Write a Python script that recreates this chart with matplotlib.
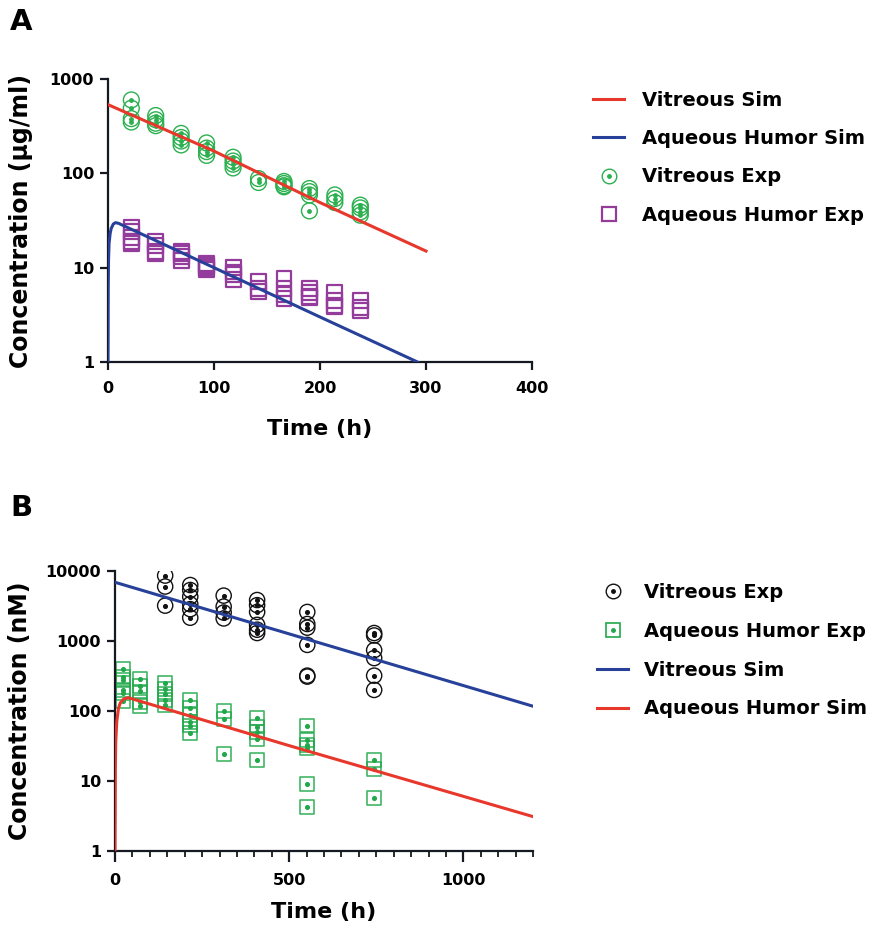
import matplotlib.pyplot as plt
import numpy as np
from matplotlib.lines import Line2D
from matplotlib.ticker import FixedLocator, NullLocator, MultipleLocator, FuncFormatter

plt.rcParams['font.family'] = ['DejaVu Sans']
plt.rcParams['font.weight'] = 'bold'

RED = '#e8372b'
BLUE = '#27419a'
GREEN_A = '#2bb04f'
PURPLE = '#943c9c'
GREEN_B = '#21a84a'

# ---- panel A data (ug/ml) ----
A_TIMES = [22, 45, 69, 93, 118, 142, 166, 190, 214, 238]
A_VIT_EXP = [[600, 490, 380, 350],
             [410, 370, 340, 320],
             [265, 240, 220, 200],
             [210, 185, 170, 155],
             [148, 135, 125, 114],
             [88, 80],
             [82, 78, 74, 72],
             [69, 64, 59, 40],
             [59, 54, 49],
             [46, 43, 39, 36]]
A_AQ_EXP = [[27, 24, 21, 19, 18],
            [19, 17, 15, 14],
            [15, 14, 13, 12],
            [11, 10.5, 10, 9.5],
            [10, 9, 8.5, 7.5],
            [7.2, 6, 5.6],
            [7.6, 6, 5.2, 4.7],
            [6, 5.5, 5, 4.8],
            [5.5, 4.5, 4, 3.9],
            [4.5, 3.8, 3.5]]
A_VIT_SIM_T = [0, 100, 200, 300]
A_VIT_SIM = [535, 172, 49, 15]
A_AQ_SIM_T = [0, 0.2, 0.5, 1, 2, 3, 5, 7, 10, 100, 200, 292]
A_AQ_SIM = [1, 6, 12, 18, 23, 26, 29, 30, 29.5, 10, 3.0, 1]

# ---- panel B data (nM) ----
B_VIT_TIMES = [144, 216, 312, 408, 552, 744]
B_VIT_EXP = [[8600, 6000, 3200],
             [6300, 5350, 4300, 3350, 2850, 2150],
             [4450, 3100, 2550, 2100],
             [3850, 3250, 2600, 1700, 1450, 1300],
             [2600, 1750, 1550, 880, 320, 310],
             [1300, 1200, 740, 570, 320, 200]]
B_AQ_TIMES = [24, 72, 144, 216, 312, 408, 552, 744]
B_AQ_EXP = [[400, 310, 280, 200, 180, 140],
            [285, 230, 190, 135, 118],
            [250, 205, 175, 145, 120],
            [145, 110, 88, 70, 62, 48],
            [100, 76, 24],
            [80, 60, 50, 40, 20],
            [62, 38, 33, 30, 9, 4.3],
            [20, 15, 5.8]]
B_VIT_SIM_T = [0, 600, 1200]
B_VIT_SIM = [6900, 900, 117]
B_AQ_SIM_T = [0, 1, 2, 5, 10, 15, 25, 38, 500, 1200]
B_AQ_SIM = [1, 15, 35, 70, 110, 130, 148, 155, 32, 3.1]


def flat(times, groups):
    x = np.concatenate([[t] * len(g) for t, g in zip(times, groups)])
    y = np.concatenate([g for g in groups])
    return x, y


def style_axes(ax):
    for s in ['top', 'right']:
        ax.spines[s].set_visible(False)
    for s in ['left', 'bottom']:
        ax.spines[s].set_linewidth(1.6)
        ax.spines[s].set_color('#151a22')
    ax.tick_params(which='major', length=6, width=1.6, labelsize=11.5, color='#151a22', pad=4)
    ax.tick_params(axis='x', which='major', pad=8)
    ax.tick_params(which='minor', length=4, width=1.3, color='#151a22')
    ax.yaxis.set_minor_locator(NullLocator())
    ax.yaxis.set_major_formatter(FuncFormatter(lambda v, p: '%d' % v))
    for lab in ax.get_xticklabels() + ax.get_yticklabels():
        lab.set_fontweight('bold')


fig = plt.figure(figsize=(8.73, 9.31), dpi=100)

# ---------------- panel A ----------------
axA = fig.add_axes([108 / 873, 1 - 362 / 931, 424 / 873, 283 / 931])
axA.set_yscale('log')
x, y = flat(A_TIMES, A_VIT_EXP)
axA.scatter(x, y, s=130, facecolors='none', edgecolors=GREEN_A, linewidths=1.0, zorder=2)
axA.scatter(x, y, s=6, color=GREEN_A, zorder=2)
x, y = flat(A_TIMES, A_AQ_EXP)
axA.scatter(x, y, s=115, marker='s', facecolors='none', edgecolors=PURPLE, linewidths=1.6, zorder=2)
axA.plot(A_VIT_SIM_T, A_VIT_SIM, color=RED, lw=2.2, zorder=3)
axA.plot(A_AQ_SIM_T, A_AQ_SIM, color=BLUE, lw=2.2, zorder=3)
axA.set_xlim(0, 400)
axA.set_ylim(1, 1000)
axA.xaxis.set_major_locator(MultipleLocator(100))
axA.yaxis.set_major_locator(FixedLocator([1, 10, 100, 1000]))
style_axes(axA)
axA.set_xlabel('Time (h)', fontsize=16, fontweight='bold', labelpad=16)
axA.set_ylabel('Concentration (µg/ml)', fontsize=17, fontweight='bold', labelpad=12)

hA = [Line2D([], [], color=RED, lw=2.2),
      Line2D([], [], color=BLUE, lw=2.2),
      (Line2D([], [], marker='o', ls='', mfc='none', mec=GREEN_A, ms=10.5, mew=1.0),
       Line2D([], [], marker='o', ls='', color=GREEN_A, ms=2.5)),
      Line2D([], [], marker='s', ls='', mfc='none', mec=PURPLE, ms=10, mew=1.6)]
fig.legend(hA, ['Vitreous Sim', 'Aqueous Humor Sim', 'Vitreous Exp', 'Aqueous Humor Exp'],
           loc='upper left', bbox_to_anchor=(593 / 873, 1 - 91 / 931), frameon=False,
           prop={'size': 14, 'weight': 'bold'}, handlelength=1.6, handletextpad=0.9,
           labelspacing=0.99, borderpad=0, borderaxespad=0)

# ---------------- panel B ----------------
axB = fig.add_axes([115 / 873, 1 - 851 / 931, 418 / 873, 280 / 931])
axB.set_yscale('log')
x, y = flat(B_VIT_TIMES, B_VIT_EXP)
axB.scatter(x, y, s=120, facecolors='none', edgecolors='#111111', linewidths=1.0, zorder=2)
axB.scatter(x, y, s=7, color='#111111', zorder=2)
x, y = flat(B_AQ_TIMES, B_AQ_EXP)
axB.scatter(x, y, s=100, marker='s', facecolors='none', edgecolors=GREEN_B, linewidths=1.2,
            alpha=0.85, zorder=2)
axB.scatter(x, y, s=7, color=GREEN_B, zorder=2)
axB.plot(B_VIT_SIM_T, B_VIT_SIM, color=BLUE, lw=2.2, zorder=3)
axB.plot(B_AQ_SIM_T, B_AQ_SIM, color=RED, lw=2.2, zorder=3)
axB.set_xlim(0, 1200)
axB.set_ylim(1, 10000)
axB.xaxis.set_major_locator(FixedLocator([0, 500, 1000]))
axB.xaxis.set_minor_locator(MultipleLocator(50))
axB.yaxis.set_major_locator(FixedLocator([1, 10, 100, 1000, 10000]))
style_axes(axB)
axB.tick_params(axis='x', which='major', length=8, pad=8)
axB.set_xlabel('Time (h)', fontsize=16, fontweight='bold', labelpad=10)
axB.set_ylabel('Concentration (nM)', fontsize=17, fontweight='bold', labelpad=10)

hB = [(Line2D([], [], marker='o', ls='', mfc='none', mec='#111111', ms=10.5, mew=1.0),
       Line2D([], [], marker='o', ls='', color='#111111', ms=2.5)),
      (Line2D([], [], marker='s', ls='', mfc='none', mec=GREEN_B, ms=10, mew=1.2),
       Line2D([], [], marker='o', ls='', color=GREEN_B, ms=2.5)),
      Line2D([], [], color=BLUE, lw=2.2),
      Line2D([], [], color=RED, lw=2.2)]
fig.legend(hB, ['Vitreous Exp', 'Aqueous Humor Exp', 'Vitreous Sim', 'Aqueous Humor Sim'],
           loc='upper left', bbox_to_anchor=(597 / 873, 1 - 583 / 931), frameon=False,
           prop={'size': 14, 'weight': 'bold'}, handlelength=1.6, handletextpad=0.8,
           labelspacing=1.02, borderpad=0, borderaxespad=0)

fig.text(10 / 873, 1 - 8 / 931, 'A', fontsize=21, fontweight='bold', va='top', ha='left')
fig.text(10 / 873, 1 - 494 / 931, 'B', fontsize=21, fontweight='bold', va='top', ha='left')

fig.savefig('out.png', dpi=100)
